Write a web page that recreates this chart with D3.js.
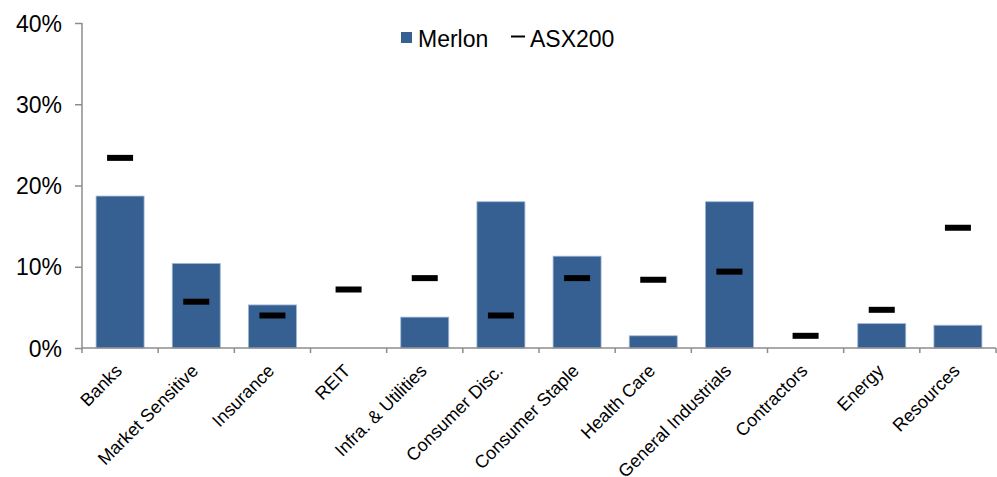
<!DOCTYPE html>
<html><head><meta charset="utf-8">
<script src="https://cdn.jsdelivr.net/npm/d3@7"></script>
<style>body{margin:0;background:#fff}svg{display:block}</style>
</head><body>
<svg id="c" width="997" height="477"></svg>
<script>
const categories = ["Banks","Market Sensitive","Insurance","REIT","Infra. & Utilities","Consumer Disc.","Consumer Staple","Health Care","General Industrials","Contractors","Energy","Resources"];
const merlon = [18.7,10.4,5.3,0,3.8,18.0,11.3,1.5,18.0,0,3.0,2.8];
const asx200 = [23.4,5.7,4.0,7.2,8.6,4.0,8.6,8.4,9.4,1.5,4.7,14.8];
const yTicks = [0,10,20,30,40];

const svg = d3.select("#c");
const font = "Liberation Sans, Arial, sans-serif";
const L = 82, R = 996, T = 23, B = 348;
const x = d3.scaleBand().domain(categories).range([L, R]).paddingInner(0.37).paddingOuter(0.185);
const y = d3.scaleLinear().domain([0, 40]).range([B, T]);
const axisColor = "#8c8c8c";

// bars
svg.append("g").selectAll("rect").data(categories).join("rect")
  .attr("x", d => x(d)).attr("width", x.bandwidth())
  .attr("y", (d,i) => y(merlon[i])).attr("height", (d,i) => B - y(merlon[i]))
  .attr("fill", "#376092").attr("stroke", "#9fb6d6").attr("stroke-width", 0.8)
  .attr("display", (d,i) => merlon[i] > 0 ? null : "none");

// ASX markers
svg.append("g").selectAll("rect").data(categories).join("rect")
  .attr("x", d => x(d) + x.bandwidth()/2 - 13).attr("width", 26)
  .attr("y", (d,i) => y(asx200[i]) - 3).attr("height", 6)
  .attr("fill", "#000");

// y axis
const yAxis = svg.append("g").attr("transform", `translate(${L},0)`)
  .call(d3.axisLeft(y).tickValues(yTicks).tickSize(7).tickFormat(d => d + "%"));
yAxis.select(".domain").attr("stroke", axisColor).attr("stroke-width", 1.5).attr("d", `M0,${T}V${B}`);
yAxis.selectAll(".tick line").attr("stroke", axisColor).attr("stroke-width", 1.5);
yAxis.selectAll(".tick text").attr("font-family", font).attr("font-size", 23).attr("fill", "#000").attr("x", -20).attr("dy", "0.35em");

// x axis
const xAxis = svg.append("g").attr("transform", `translate(0,${B})`);
xAxis.append("path").attr("d", `M${L},0H${R}`).attr("stroke", axisColor).attr("stroke-width", 1.5);
const tickPos = categories.map(c => x(c) - x.step()*x.paddingInner()/2).concat([R]);
xAxis.selectAll("line").data(tickPos).join("line")
  .attr("x1", d => d).attr("x2", d => d).attr("y1", 0).attr("y2", 5)
  .attr("stroke", axisColor).attr("stroke-width", 1.5);
xAxis.selectAll("text").data(categories).join("text")
  .attr("transform", d => `translate(${x(d) + x.bandwidth()/2 + 3},${24}) rotate(-45)`)
  .attr("text-anchor", "end").attr("font-family", font).attr("font-size", 18).attr("fill", "#000")
  .text(d => d);

// legend
const lg = svg.append("g");
lg.append("rect").attr("x", 401).attr("y", 32).attr("width", 11).attr("height", 11).attr("fill", "#376092");
lg.append("text").attr("x", 418).attr("y", 47).attr("font-family", font).attr("font-size", 23).text("Merlon");
lg.append("line").attr("x1", 511).attr("x2", 525).attr("y1", 36.5).attr("y2", 36.5).attr("stroke", "#000").attr("stroke-width", 2);
lg.append("text").attr("x", 530).attr("y", 47).attr("font-family", font).attr("font-size", 23).text("ASX200");
</script>
</body></html>
